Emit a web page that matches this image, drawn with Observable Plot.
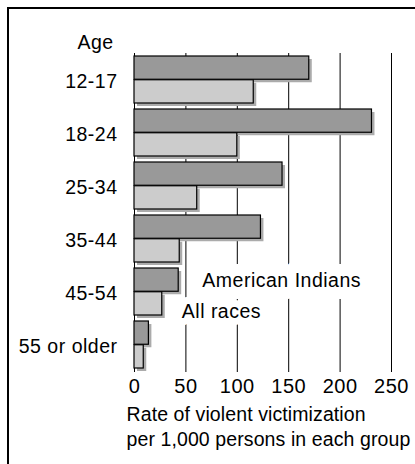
<!DOCTYPE html>
<html>
<head>
<meta charset="utf-8">
<script src="https://cdn.jsdelivr.net/npm/d3@7"></script>
<script src="https://cdn.jsdelivr.net/npm/@observablehq/plot@0.6"></script>
<style>
  html, body { margin: 0; padding: 0; background: #fff; }
  #wrap { position: relative; width: 415px; height: 464px; overflow: hidden; }
  #frame { position: absolute; left: 7px; top: 7px; width: 408px; height: 457px;
           border-top: 2px solid #000; border-left: 2px solid #000; box-sizing: border-box; pointer-events: none; }
  svg { display: block; font-family: "Liberation Sans", Arial, sans-serif; letter-spacing: 0.5px; }
  svg .xtitle { letter-spacing: 0.1px; }
</style>
</head>
<body>
<div id="wrap"><div id="frame"></div></div>
<script>
// ---- data ----
const ages = ["12-17", "18-24", "25-34", "35-44", "45-54", "55 or older"];
const americanIndians = [170, 231, 144, 123, 43, 14];
const allRaces = [116, 100, 61, 44, 27, 9];
const xTicks = [0, 50, 100, 150, 200, 250];
const seriesNames = ["American Indians", "All races"];
const yTitle = "Age";
const xTitle = "Rate of violent victimization\nper 1,000 persons in each group";

// ---- layout ----
const W = 415, H = 464, mTop = 53, mBottom = 92, mLeft = 134, mRight = 24;
const padIn = 0.104, padOut = 0.06;
const step = (H - mTop - mBottom) / (ages.length - padIn + 2 * padOut);
const bw = step * (1 - padIn);
const half = bw / 2;

const aiData = ages.map((a, i) => ({age: a, value: americanIndians[i]}));
const allData = ages.map((a, i) => ({age: a, value: allRaces[i]}));

const dark = "#999999", light = "#cccccc", shadow = "#ababab";

const chart = Plot.plot({
  width: W, height: H,
  marginTop: mTop, marginBottom: mBottom, marginLeft: mLeft, marginRight: mRight,
  style: {fontFamily: "Liberation Sans, Arial, sans-serif", color: "#000", background: "transparent"},
  x: {domain: [0, 250], axis: null},
  y: {domain: ages, paddingInner: padIn, paddingOuter: padOut, align: 0.5, axis: null},
  marks: [
    Plot.ruleX(xTicks, {stroke: "#000", strokeWidth: 1}),
    // shadows
    Plot.barX(aiData, {x: "value", y: "age", insetBottom: half, fill: shadow, dx: 3, dy: 3}),
    Plot.barX(allData, {x: "value", y: "age", insetTop: half, fill: shadow, dx: 3, dy: 3}),
    // bars
    Plot.barX(aiData, {x: "value", y: "age", insetBottom: half, fill: dark, stroke: "#000", strokeWidth: 1.2}),
    Plot.barX(allData, {x: "value", y: "age", insetTop: half, fill: light, stroke: "#000", strokeWidth: 1.2}),
    // axes
    Plot.axisX(xTicks, {tickSize: 0, tickPadding: 6, fontSize: 20, label: null}),
    Plot.axisY({tickSize: 0, tickPadding: 17, fontSize: 19.5, label: null, dy: 2}),
    // legend labels
    Plot.text([seriesNames[0]], {x: 66, y: () => ages[4], textAnchor: "start", dy: -11, fontSize: 19.5,
      fill: "#000", stroke: "#fff", strokeWidth: 24, paintOrder: "stroke"}),
    Plot.text([seriesNames[1]], {x: 46, y: () => ages[4], textAnchor: "start", dy: 20, fontSize: 19.5,
      fill: "#000", stroke: "#fff", strokeWidth: 14, paintOrder: "stroke"}),
    // titles
    Plot.text([yTitle], {frameAnchor: "top-left", textAnchor: "middle", dx: -39, dy: -18, fontSize: 19.5, fill: "#000"}),
    Plot.text([xTitle], {frameAnchor: "bottom-left", textAnchor: "start", lineAnchor: "middle",
      dx: -8, dy: 53, fontSize: 19.5, lineHeight: 1.28, fill: "#000", className: "xtitle"})
  ]
});
document.getElementById("wrap").prepend(chart);
</script>
</body>
</html>
